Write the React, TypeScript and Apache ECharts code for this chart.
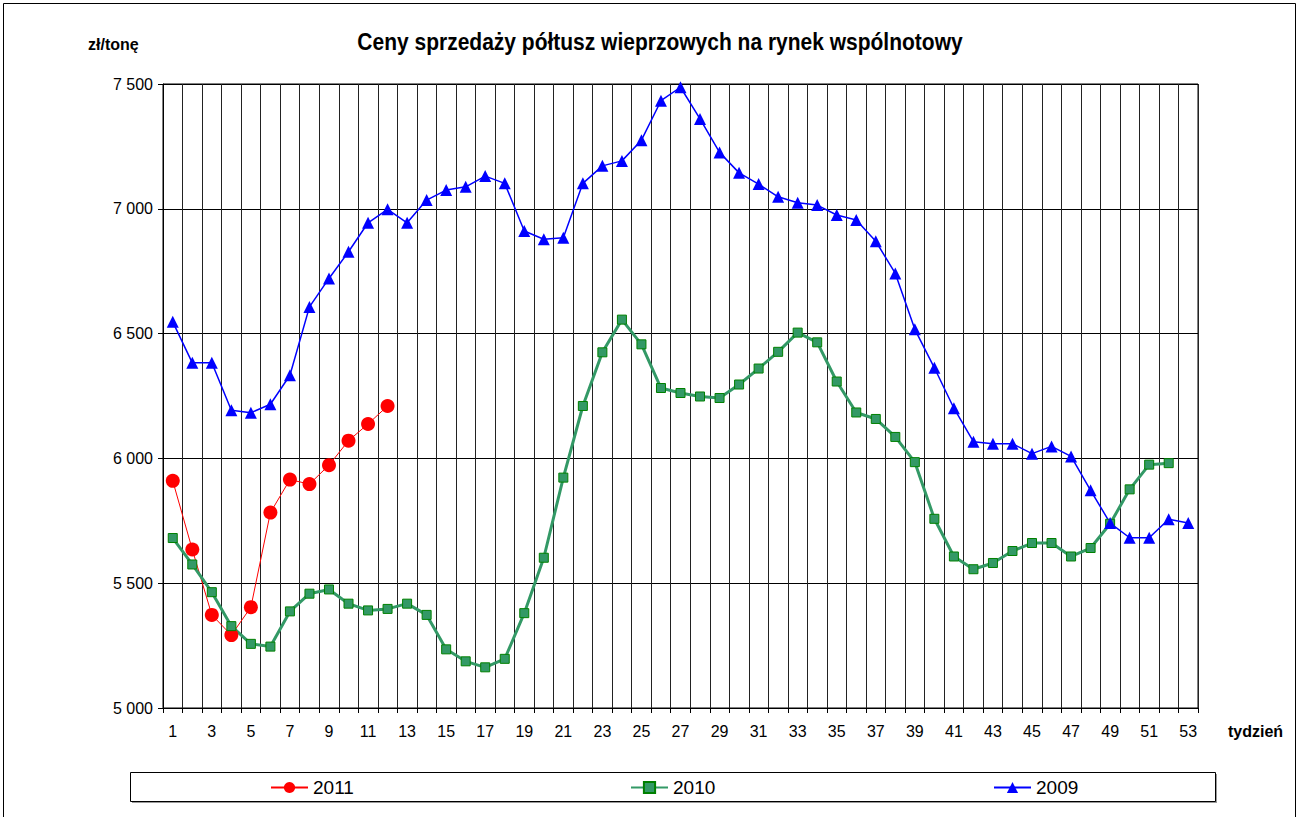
import React, { useEffect, useRef } from 'react';
import * as echarts from 'echarts';

const weeks = ['1','2','3','4','5','6','7','8','9','10','11','12','13','14','15','16','17','18','19','20','21','22','23','24','25','26','27','28','29','30','31','32','33','34','35','36','37','38','39','40','41','42','43','44','45','46','47','48','49','50','51','52','53'];

const s2011 = [5910, 5635, 5373, 5292, 5404, 5783, 5915, 5897, 5973, 6071, 6138, 6210];

const s2010 = [5681, 5575, 5464, 5328, 5257, 5246, 5387, 5458, 5475, 5418, 5391, 5397, 5418, 5373, 5235, 5187, 5163, 5197, 5380, 5602, 5923, 6210, 6425, 6556, 6457, 6282, 6262, 6248, 6242, 6296, 6360, 6427, 6504, 6465, 6308, 6184, 6158, 6086, 5985, 5758, 5607, 5556, 5581, 5629, 5661, 5661, 5607, 5641, 5738, 5876, 5975, 5981];

const s2009 = [6547, 6383, 6383, 6193, 6183, 6217, 6333, 6607, 6721, 6828, 6944, 6998, 6944, 7035, 7075, 7088, 7131, 7102, 6911, 6878, 6884, 7102, 7172, 7192, 7275, 7433, 7487, 7360, 7226, 7144, 7099, 7048, 7024, 7015, 6975, 6955, 6870, 6741, 6517, 6363, 6201, 6067, 6059, 6059, 6019, 6048, 6008, 5872, 5741, 5682, 5682, 5756, 5741];

const seriesNames = ['2011', '2010', '2009'];
const titleText = 'Ceny sprzedaży półtusz wieprzowych na rynek wspólnotowy';
const yUnit = 'zł/tonę';
const xUnit = 'tydzień';

const FONT = 'Arial, "Liberation Sans", sans-serif';

export default function App() {
  const ref = useRef<HTMLDivElement>(null);
  useEffect(() => {
    if (!ref.current) return;
    const chart = echarts.init(ref.current, null, { renderer: 'svg' });
    const legendCommon = {
      top: 778,
      padding: 0,
      itemWidth: 37,
      itemHeight: 14,
      itemGap: 5,
      textStyle: { fontSize: 19, fontFamily: FONT, color: '#000' },
    };
    chart.setOption({
      animation: false,
      backgroundColor: '#fff',
      grid: {
        left: 163,
        right: 100,
        top: 84,
        bottom: 109,
        show: true,
        borderColor: '#000',
        borderWidth: 1,
      },
      legend: [
        { ...legendCommon, data: [seriesNames[0]], left: 270 },
        { ...legendCommon, data: [seriesNames[1]], left: 630 },
        { ...legendCommon, data: [seriesNames[2]], left: 993 },
      ],
      xAxis: {
        type: 'category',
        data: weeks,
        boundaryGap: true,
        axisLine: { show: true, lineStyle: { color: '#000', width: 1 } },
        axisTick: { show: true, interval: 0, length: 5, lineStyle: { color: '#000' } },
        axisLabel: { interval: 1, fontSize: 16, fontFamily: FONT, color: '#000', margin: 15 },
        splitLine: { show: true, interval: 0, lineStyle: { color: '#222', width: 1 } },
      },
      yAxis: {
        type: 'value',
        min: 5000,
        max: 7500,
        interval: 500,
        axisLine: { show: true, lineStyle: { color: '#000', width: 1 } },
        axisTick: { show: true, length: 5, lineStyle: { color: '#000' } },
        axisLabel: {
          fontSize: 16,
          fontFamily: FONT,
          color: '#000',
          margin: 10,
          formatter: (v: number) => String(v).replace(/\B(?=(\d{3})+(?!\d))/g, ' '),
        },
        splitLine: { show: true, lineStyle: { color: '#000', width: 1 } },
      },
      series: [
        {
          name: seriesNames[0],
          type: 'line',
          data: s2011,
          symbol: 'circle',
          symbolSize: 14,
          showAllSymbol: true,
          lineStyle: { color: '#FF0000', width: 1 },
          itemStyle: { color: '#FF0000' },
        },
        {
          name: seriesNames[1],
          type: 'line',
          data: s2010,
          symbol: 'rect',
          symbolSize: 9,
          showAllSymbol: true,
          lineStyle: { color: '#339966', width: 3 },
          itemStyle: { color: '#339966', borderColor: '#008000', borderWidth: 1 },
        },
        {
          name: seriesNames[2],
          type: 'line',
          data: s2009,
          symbol: 'triangle',
          symbolSize: 12,
          showAllSymbol: true,
          lineStyle: { color: '#0000FF', width: 1.5 },
          itemStyle: { color: '#0000FF' },
        },
      ],
      graphic: [
        {
          type: 'rect',
          z: -10,
          silent: true,
          shape: { x: 3.5, y: 3.5, width: 1292, height: 840 },
          style: { fill: 'none', stroke: '#000', lineWidth: 1 },
        },
        {
          type: 'rect',
          z: -10,
          silent: true,
          shape: { x: 132, y: 774, width: 1085, height: 29 },
          style: { fill: '#999', stroke: 'none' },
        },
        {
          type: 'rect',
          z: -9,
          silent: true,
          shape: { x: 130.5, y: 772.5, width: 1085, height: 29 },
          style: { fill: '#fff', stroke: '#000', lineWidth: 1 },
        },
        {
          type: 'text',
          x: 660,
          y: 42,
          scaleY: 1.1,
          style: {
            text: titleText,
            font: `bold 21px ${FONT}`,
            fill: '#000',
            textAlign: 'center',
            textVerticalAlign: 'middle',
          },
        },
        {
          type: 'text',
          x: 88,
          y: 44,
          style: {
            text: yUnit,
            font: `bold 16px ${FONT}`,
            fill: '#000',
            textAlign: 'left',
            textVerticalAlign: 'middle',
          },
        },
        {
          type: 'text',
          x: 1228,
          y: 731,
          style: {
            text: xUnit,
            font: `bold 16px ${FONT}`,
            fill: '#000',
            textAlign: 'left',
            textVerticalAlign: 'middle',
          },
        },
      ],
    });
    return () => chart.dispose();
  }, []);
  return (
    <div
      ref={ref}
      style={{ position: 'fixed', left: 0, top: 0, width: 1298, height: 817 }}
    />
  );
}
